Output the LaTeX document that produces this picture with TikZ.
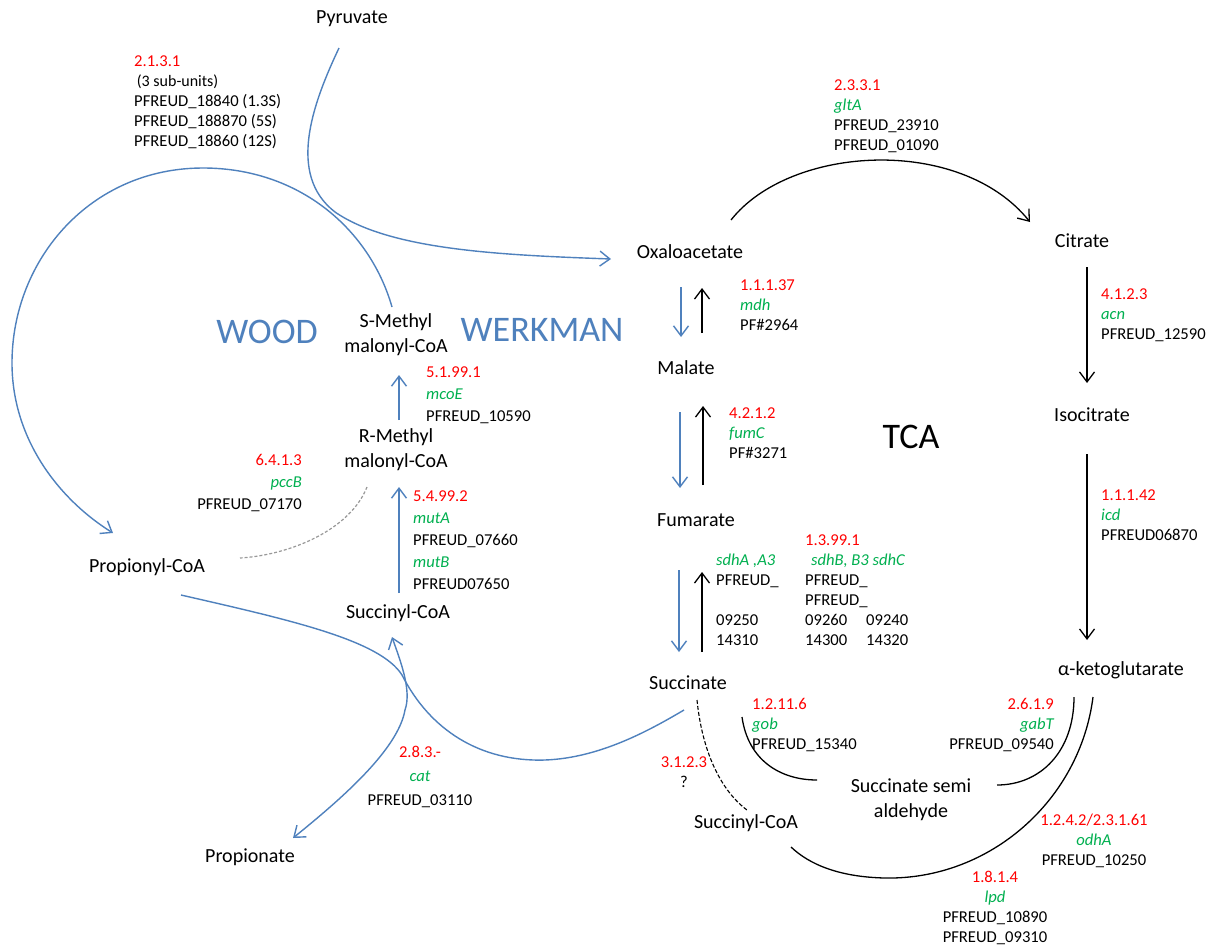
\documentclass[tikz,border=0pt]{standalone}
\usepackage{fontspec}
\setmainfont{Carlito}
\usetikzlibrary{arrows.meta}
\definecolor{wwblue}{HTML}{4F81BD}
\definecolor{ecred}{HTML}{FF0000}
\definecolor{gngreen}{HTML}{00B050}
\newcommand\ecnum[1]{\textcolor{ecred}{#1}}
\newcommand\genename[1]{\textcolor{gngreen}{\itshape #1}}
\begin{document}
\begin{tikzpicture}[x=1pt,y=-1pt,
  met/.style={font=\fontsize{20}{25}\selectfont, align=center, inner sep=0pt},
  gene/.style={font=\fontsize{16.6}{20}\selectfont, inner sep=0pt},
  genewide/.style={font=\fontsize{16.6}{22}\selectfont, inner sep=0pt},
  big/.style={font=\fontsize{36}{40}\selectfont, inner sep=0pt},
  blueln/.style={draw=wwblue, line width=1.4pt},
  blackln/.style={draw=black, line width=1.3pt},
  grayDash/.style={draw=gray!80, line width=1.2pt, dash pattern=on 3pt off 2pt},
  blackDash/.style={draw=black, line width=1.1pt, dash pattern=on 4pt off 2pt},
  >={Straight Barb[length=10pt,width=15pt]},
]
\fill[white] (0,0) rectangle (1210,946);
\useasboundingbox (0,0) rectangle (1210,946);

% metabolites
\node[met] (pyr) at (352,19) {Pyruvate};
\node[met] (oxa) at (690,252) {Oxaloacetate};
\node[met] (cit) at (1082,241) {Citrate};
\node[met] (mal) at (686,368) {Malate};
\node[met] (iso) at (1092,415) {Isocitrate};
\node[met] (fum) at (696,520) {Fumarate};
\node[met] (akg) at (1121,670) {α-ketoglutarate};
\node[met] (suc) at (688,683) {Succinate};
\node[met] (ssa) at (911,799.5) {Succinate semi\\aldehyde};
\node[met] (scoaR) at (746,823) {Succinyl-CoA};
\node[met] (smm) at (396,334.5) {S-Methyl\\malonyl-CoA};
\node[met] (rmm) at (396,450) {R-Methyl\\malonyl-CoA};
\node[met] (scoaL) at (398,613) {Succinyl-CoA};
\node[met] (pcoa) at (147,567) {Propionyl-CoA};
\node[met] (prop) at (250,857) {Propionate};

% big labels
\node[big, text=wwblue] (wood) at (267,332) {WOOD};
\node[big, text=wwblue] (werk) at (542,330) {WERKMAN};
\node[big] (tca) at (911,437) {TCA};

% gene labels
\node[gene, anchor=west, align=left] (g2131) at (134,102.5) {\ecnum{2.1.3.1}\\ {\fontsize{16}{20}\selectfont\,(3 sub-units)}\\ PFREUD\_18840 (1.3S)\\ PFREUD\_188870 (5S)\\ PFREUD\_18860 (12S)};
\node[gene, anchor=west, align=left] (g2331) at (834,116.5) {\ecnum{2.3.3.1}\\ \genename{gltA}\\ PFREUD\_23910\\ PFREUD\_01090};
\node[gene, anchor=west, align=left] (g11137) at (740,305) {\ecnum{1.1.1.37}\\ \genename{mdh}\\ PF\#2964};
\node[gene, anchor=west, align=left] (g4123) at (1101,315) {\ecnum{4.1.2.3}\\ \genename{acn}\\ PFREUD\_12590};
\node[gene, anchor=west, align=left] (g4212) at (729,433) {\ecnum{4.2.1.2}\\ \genename{fumC}\\ PF\#3271};
\node[gene, anchor=west, align=left] (g11142) at (1101,515) {\ecnum{1.1.1.42}\\ \genename{icd}\\ PFREUD06870};
\node[genewide, anchor=west, align=left] (g51991) at (426,395) {\ecnum{5.1.99.1}\\ \genename{mcoE}\\ PFREUD\_10590};
\node[genewide, anchor=west, align=left] (g54992) at (413,540.5) {\ecnum{5.4.99.2}\\ \genename{mutA}\\ PFREUD\_07660\\ \genename{mutB}\\ PFREUD07650};
\node[genewide, anchor=east, align=right] (g6413) at (302,482.5) {\ecnum{6.4.1.3}\\ \genename{pccB}\\ PFREUD\_07170};
\node[gene, align=center, font=\fontsize{16.6}{24}\selectfont] (g283) at (420,777) {\ecnum{2.8.3.-}\\ \genename{cat}\\ PFREUD\_03110};
\node[gene, anchor=west] (g13991) at (716,591.5) {%
\begin{tabular}{@{}p{89pt}@{}p{61pt}@{}l@{}}
 & \ecnum{1.3.99.1} & \\
\genename{sdhA ,A3} & \multicolumn{2}{l}{\genename{sdhB, B3 sdhC}}\\
PFREUD\_ & PFREUD\_ & \\
 & PFREUD\_ & \\
09250 & 09260 & 09240\\
14310 & 14300 & 14320
\end{tabular}};
\node[gene, anchor=west, align=left] (g12116) at (752,724.5) {\ecnum{1.2.11.6}\\ \genename{gob}\\ PFREUD\_15340};
\node[gene, anchor=east, align=right] (g2619) at (1054,724.5) {\ecnum{2.6.1.9}\\ \genename{gabT}\\ PFREUD\_09540};
\node[gene, align=center] (g3123) at (684,772) {\ecnum{3.1.2.3}\\ ?};
\node[gene, align=center] (g1242) at (1094,841) {\ecnum{1.2.4.2/2.3.1.61}\\ \genename{odhA}\\ PFREUD\_10250};
\node[gene, align=center] (g1814) at (995,907.5) {\ecnum{1.8.1.4}\\ \genename{lpd}\\ PFREUD\_10890\\ PFREUD\_09310};

% connector end points
\coordinate (pyrOut) at (339,48);
\coordinate (oxaIn) at (611,259);
\coordinate (smmTop) at (392,307);
\coordinate (pcoaIn) at (113,533);
\coordinate (pcoaOut) at (181,595);
\coordinate (sucOutL) at (684,710);
\coordinate (scoaLIn) at (392,637);
\coordinate (propIn) at (293,838);
\coordinate (rmmDash) at (367,487);
\coordinate (pcoaDash) at (240,558);

% Wood-Werkman (blue)
\draw[blueln,->] (pyrOut) .. controls (312,105) and (287,175) .. (335,212)
   .. controls (390,250) and (500,255) .. (oxaIn);
\draw[blueln,->] (smmTop) .. controls (370,230) and (300,168) .. (203,168)
   .. controls (90,168) and (12,260) .. (12,363)
   .. controls (12,440) and (60,500) .. (pcoaIn);
\draw[blueln] (pcoaOut) .. controls (290,620) and (380,640) .. (402,675)
   .. controls (430,730) and (480,762) .. (545,760)
   .. controls (600,758) and (650,730) .. (sucOutL);
\draw[blueln,<->] (scoaLIn) .. controls (400,660) and (412,690) .. (405,710)
   .. controls (398,750) and (340,800) .. (propIn);
\draw[blueln,->] (399,420) -- (399,375);
\draw[blueln,->] (399,593) -- (399,487);
\draw[grayDash] (rmmDash) .. controls (350,530) and (290,555) .. (pcoaDash);

% TCA (black / blue pairs)
\draw[blackln,->] (731,220) .. controls (790,145) and (960,135) .. (1030,222);
\draw[blackln,->] (1087,267) -- (1087,383);
\draw[blackln,->] (1087,454) -- (1087,640);
\draw[blueln,->] (681,287) -- (681,337);
\draw[blackln,->] (702,333) -- (702,288);
\draw[blueln,->] (680,412) -- (680,488);
\draw[blackln,->] (703,485) -- (703,406);
\draw[blueln,->] (679,570) -- (679,652);
\draw[blackln,->] (702,652) -- (702,572);

% succinate / alpha-ketoglutarate region
\draw[blackln] (1093,697) .. controls (1080,800) and (990,880) .. (885,878)
   .. controls (840,877) and (810,865) .. (791,847);
\draw[blackln] (1074,697) .. controls (1074,752) and (1040,785) .. (997,785);
\draw[blackln] (742,717) .. controls (748,760) and (780,780) .. (817,780);
\draw[blackDash] (697,700) .. controls (702,750) and (720,790) .. (747,810);
\end{tikzpicture}
\end{document}
